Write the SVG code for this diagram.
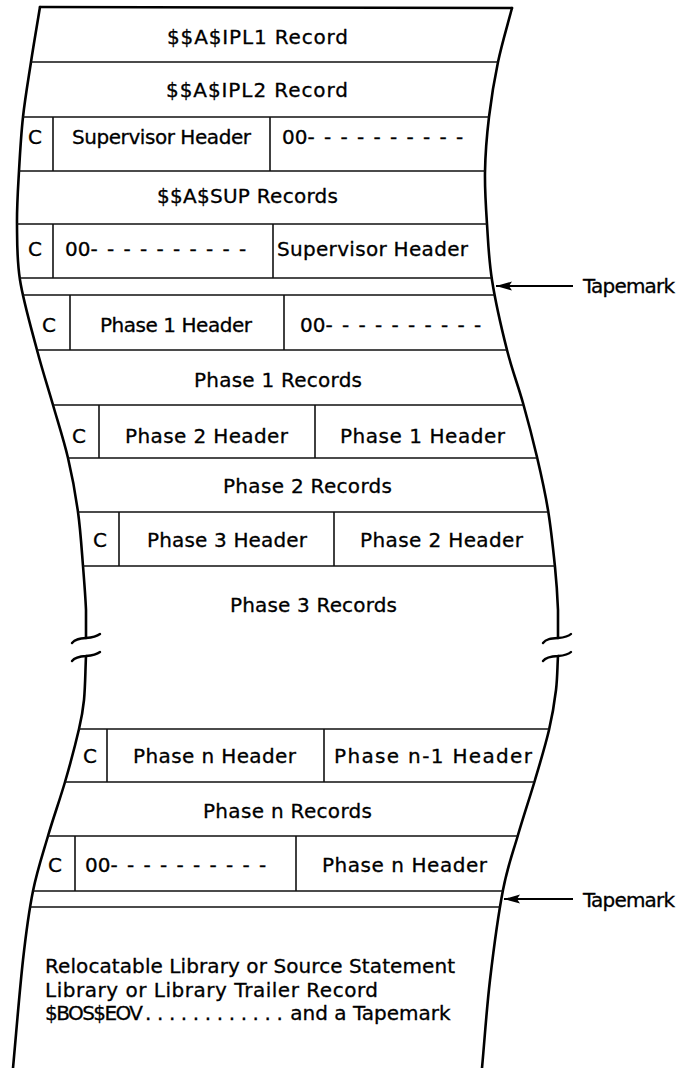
<svg xmlns="http://www.w3.org/2000/svg" width="696" height="1068" viewBox="0 0 696 1068">
<style>
.t{font-family:"DejaVu Sans","Liberation Sans",sans-serif;font-size:20px;fill:#000;stroke:#000;stroke-width:0.3}
.rule{stroke:#111;stroke-width:1.6;fill:none}
.div{stroke:#111;stroke-width:1.6}
.edge{fill:none;stroke:#000;stroke-width:2.6;stroke-linecap:round;stroke-linejoin:round}
.brk{fill:none;stroke:#000;stroke-width:2.4;stroke-linecap:round}
.arr{stroke:#000;stroke-width:2}
.dash{letter-spacing:9.3px}
</style>
<defs>
<clipPath id="tape">
<path d="M40,7 C37,25.3 33.8,43.7 31,62 C28.2,80.3 25,98.8 23,117 C21,135.2 20,153.2 19,171 C18,188.8 16.8,205.8 17,224 C17.2,242.2 16.7,259 20,280 C23.3,301 31.5,329.2 37,350 C42.5,370.8 47.8,387 53,405 C58.2,423 63.8,440.2 68,458 C72.2,475.8 75.5,494 78,512 C80.5,530 81.7,549.7 83,566 C84.3,582.3 85.5,597.7 86,610 L86,656 C85.3,671.3 85.2,688 84,700 C82.8,712 82.2,715.3 79,729 C75.8,742.7 70.2,764.2 65,782 C59.8,799.8 53.3,817.8 48,836 C42.7,854.2 37.2,870.3 33,891 C28.8,911.7 26.3,930.5 23,960 C19.7,989.5 16.3,1032 13,1068 L482,1068 C484.7,1038.7 486.5,1009.7 490,980 C493.5,950.3 498.3,914.2 503,890 C507.7,865.8 512.7,853.3 518,835 C523.3,816.7 529.8,797.5 535,780 C540.2,762.5 545.5,745 549,730 C552.5,715 554.5,702.5 556,690 C557.5,677.5 557.3,666.7 558,655 L558,610 C557.5,597.8 556.7,583.7 555,567 C553.3,550.3 551,528.3 548,510 C545,491.7 541.2,474.8 537,457 C532.8,439.2 528,420.8 523,403 C518,385.2 512.2,370.5 507,350 C501.8,329.5 495.3,301 492,280 C488.7,259 488.2,242 487,224 C485.8,206 484.7,189.8 485,172 C485.3,154.2 486.8,135.3 489,117 C491.2,98.7 494.2,80.2 498,62 C501.8,43.8 507.3,26 512,8 Z"/>
</clipPath>
<marker id="ah" markerUnits="userSpaceOnUse" markerWidth="17" markerHeight="10" refX="16" refY="5" orient="auto">
<path d="M0,0.5 L16,5 L0,9.5 L3,5 Z" fill="#000"/>
</marker>
</defs>
<rect width="696" height="1068" fill="#fff"/>

<g id="tape-outline">
<path class="edge" d="M40,7 L512,8"/>
<path class="edge" d="M40,7 C37,25.3 33.8,43.7 31,62 C28.2,80.3 25,98.8 23,117 C21,135.2 20,153.2 19,171 C18,188.8 16.8,205.8 17,224 C17.2,242.2 16.7,259 20,280 C23.3,301 31.5,329.2 37,350 C42.5,370.8 47.8,387 53,405 C58.2,423 63.8,440.2 68,458 C72.2,475.8 75.5,494 78,512 C80.5,530 81.7,549.7 83,566 C84.3,582.3 85.5,597.7 86,610 L86,638"/>
<path class="edge" d="M86,656 C85.3,671.3 85.2,688 84,700 C82.8,712 82.2,715.3 79,729 C75.8,742.7 70.2,764.2 65,782 C59.8,799.8 53.3,817.8 48,836 C42.7,854.2 37.2,870.3 33,891 C28.8,911.7 26.3,930.5 23,960 C19.7,989.5 16.3,1032 13,1068"/>
<path class="edge" d="M512,8 C507.3,26 501.8,43.8 498,62 C494.2,80.2 491.2,98.7 489,117 C486.8,135.3 485.3,154.2 485,172 C484.7,189.8 485.8,206 487,224 C488.2,242 488.7,259 492,280 C495.3,301 501.8,329.5 507,350 C512.2,370.5 518,385.2 523,403 C528,420.8 532.8,439.2 537,457 C541.2,474.8 545,491.7 548,510 C551,528.3 553.3,550.3 555,567 C556.7,583.7 557.5,597.8 558,610 L558,638"/>
<path class="edge" d="M558,656 C557.3,666.7 557.5,677.5 556,690 C554.5,702.5 552.5,715 549,730 C545.5,745 540.2,762.5 535,780 C529.8,797.5 523.3,816.7 518,835 C512.7,853.3 507.7,865.8 503,890 C498.3,914.2 493.5,950.3 490,980 C486.5,1009.7 484.7,1038.7 482,1068"/>
<path class="brk" d="M72,643 C75,639 80,638.5 86,638 C92,637.5 96,637 100,634"/>
<path class="brk" d="M72,661 C75,657 80,656.3 86,656 C92,655.5 96,655 100,652"/>
<path class="brk" d="M543,643 C546,639 551,638.5 558,638 C564,637.5 568,637 571,634"/>
<path class="brk" d="M543,661 C546,657 551,656.3 558,656 C564,655.5 568,655 571,652"/>
</g>

<g id="row-rules" clip-path="url(#tape)">
<path class="rule" d="M0,62H696M0,117H696M0,171H696M0,224H696M0,278H696M0,295H696M0,350H696M0,405H696M0,458H696M0,512H696M0,566H696M0,729H696M0,782H696M0,836H696M0,891H696M0,907H696"/>
</g>

<g id="ipl1">
<text class="t" x="167" y="44" textLength="181" lengthAdjust="spacing">$$A$IPL1 Record</text>
</g>
<g id="ipl2">
<text class="t" x="166" y="97" textLength="182" lengthAdjust="spacing">$$A$IPL2 Record</text>
</g>
<g id="sup-header-1">
<line class="div" x1="53" y1="117" x2="53" y2="171"/>
<line class="div" x1="270" y1="117" x2="270" y2="171"/>
<text class="t" x="28" y="144">C</text>
<text class="t" x="72" y="144" textLength="179" lengthAdjust="spacing">Supervisor Header</text>
<text class="t" x="282" y="144">00<tspan class="dash">----------</tspan></text>
</g>
<g id="sup-records">
<text class="t" x="157" y="203" textLength="181" lengthAdjust="spacing">$$A$SUP Records</text>
</g>
<g id="sup-header-2">
<line class="div" x1="53" y1="224" x2="53" y2="278"/>
<line class="div" x1="273" y1="224" x2="273" y2="278"/>
<text class="t" x="28" y="256">C</text>
<text class="t" x="65" y="256">00<tspan class="dash">----------</tspan></text>
<text class="t" x="277" y="256" textLength="191" lengthAdjust="spacing">Supervisor Header</text>
</g>
<g id="phase1-header">
<line class="div" x1="70" y1="295" x2="70" y2="350"/>
<line class="div" x1="284" y1="295" x2="284" y2="350"/>
<text class="t" x="42" y="332">C</text>
<text class="t" x="100" y="332" textLength="152" lengthAdjust="spacing">Phase 1 Header</text>
<text class="t" x="300" y="332">00<tspan class="dash">----------</tspan></text>
</g>
<g id="phase1-records">
<text class="t" x="194" y="387" textLength="168" lengthAdjust="spacing">Phase 1 Records</text>
</g>
<g id="phase2-header">
<line class="div" x1="99" y1="405" x2="99" y2="458"/>
<line class="div" x1="315" y1="405" x2="315" y2="458"/>
<text class="t" x="72" y="443">C</text>
<text class="t" x="125" y="443" textLength="163" lengthAdjust="spacing">Phase 2 Header</text>
<text class="t" x="340" y="443" textLength="165" lengthAdjust="spacing">Phase 1 Header</text>
</g>
<g id="phase2-records">
<text class="t" x="223" y="493" textLength="169" lengthAdjust="spacing">Phase 2 Records</text>
</g>
<g id="phase3-header">
<line class="div" x1="119" y1="512" x2="119" y2="566"/>
<line class="div" x1="334" y1="512" x2="334" y2="566"/>
<text class="t" x="93" y="547">C</text>
<text class="t" x="147" y="547" textLength="160" lengthAdjust="spacing">Phase 3 Header</text>
<text class="t" x="360" y="547" textLength="163" lengthAdjust="spacing">Phase 2 Header</text>
</g>
<g id="phase3-records">
<text class="t" x="230" y="612" textLength="167" lengthAdjust="spacing">Phase 3 Records</text>
</g>
<g id="phasen-header">
<line class="div" x1="107" y1="729" x2="107" y2="782"/>
<line class="div" x1="324" y1="729" x2="324" y2="782"/>
<text class="t" x="83" y="763">C</text>
<text class="t" x="133" y="763" textLength="163" lengthAdjust="spacing">Phase n Header</text>
<text class="t" x="334" y="763" textLength="198" lengthAdjust="spacing">Phase n-1 Header</text>
</g>
<g id="phasen-records">
<text class="t" x="203" y="818" textLength="169" lengthAdjust="spacing">Phase n Records</text>
</g>
<g id="phasen-trailer">
<line class="div" x1="75" y1="836" x2="75" y2="891"/>
<line class="div" x1="296" y1="836" x2="296" y2="891"/>
<text class="t" x="48" y="872">C</text>
<text class="t" x="85" y="872">00<tspan class="dash">----------</tspan></text>
<text class="t" x="322" y="872" textLength="165" lengthAdjust="spacing">Phase n Header</text>
</g>
<g id="library">
<text class="t" x="45" y="973" textLength="410" lengthAdjust="spacing">Relocatable Library or Source Statement</text>
<text class="t" x="45" y="997" textLength="333" lengthAdjust="spacing">Library or Library Trailer Record</text>
<text class="t" y="1020"><tspan x="45" textLength="98" lengthAdjust="spacing">$BOS$EOV</tspan><tspan x="145" letter-spacing="5.6">............</tspan><tspan x="284"> and a Tapemark</tspan></text>
</g>
<g id="tapemark-1">
<text class="t" x="583" y="293" textLength="92" lengthAdjust="spacing">Tapemark</text>
</g>
<g id="tapemark-2">
<text class="t" x="583" y="907" textLength="92" lengthAdjust="spacing">Tapemark</text>
</g>

<g id="connectors">
<line class="arr" x1="573" y1="286" x2="496" y2="286" marker-end="url(#ah)"/>
<line class="arr" x1="573" y1="899" x2="504" y2="899" marker-end="url(#ah)"/>
</g>
</svg>
